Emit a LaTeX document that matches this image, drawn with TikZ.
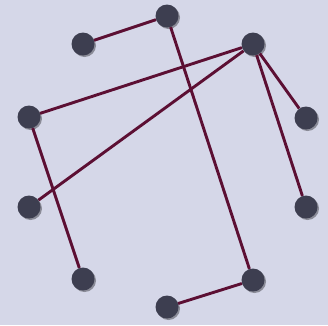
\documentclass[tikz,border=0pt]{standalone}
\usetikzlibrary{shadows}
\definecolor{bg}{HTML}{D5D7E8}
\definecolor{nodecol}{HTML}{3D3E50}
\definecolor{edgecol}{HTML}{5C0F33}
\begin{document}
\begin{tikzpicture}[x=1pt,y=-1pt,
  dot/.style={circle,fill=nodecol,minimum size=23pt,inner sep=0pt,
    drop shadow={shadow xshift=1.5pt,shadow yshift=-1.5pt,opacity=0.35,fill=black}},
  edge/.style={draw=edgecol,line width=2.9pt}]
\fill[bg] (0,0) rectangle (328,325);
\useasboundingbox (0,0) rectangle (328,325);
\node[dot] (a) at (83,44) {};
\node[dot] (b) at (167,16) {};
\node[dot] (c) at (253,44) {};
\node[dot] (d) at (306,118) {};
\node[dot] (e) at (29,117) {};
\node[dot] (f) at (306,207) {};
\node[dot] (g) at (29,207) {};
\node[dot] (h) at (83,279) {};
\node[dot] (i) at (253,280) {};
\node[dot] (j) at (167,307) {};
\draw[edge] (a) -- (b);
\draw[edge] (b) -- (i);
\draw[edge] (c) -- (e);
\draw[edge] (c) -- (g);
\draw[edge] (c) -- (d);
\draw[edge] (c) -- (f);
\draw[edge] (e) -- (h);
\draw[edge] (i) -- (j);
\end{tikzpicture}
\end{document}
